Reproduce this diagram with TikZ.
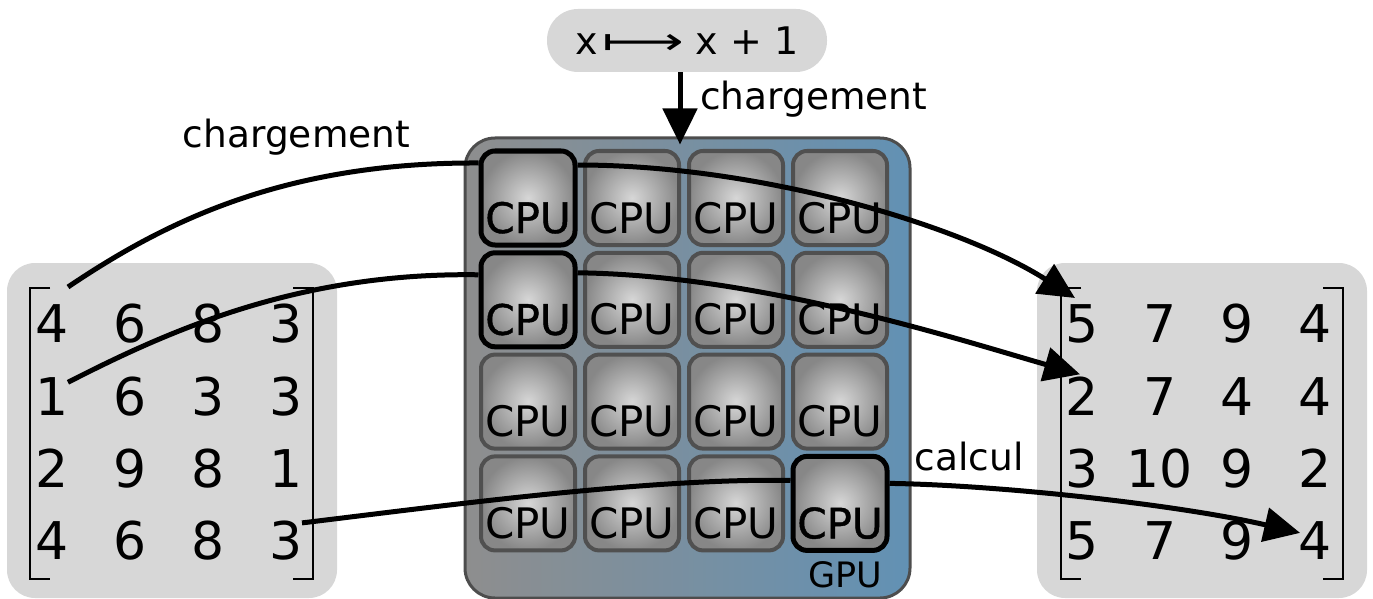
\documentclass[tikz,border=0pt]{standalone}
\usepackage{fontspec}
\setmainfont{DejaVu Sans}
\newfontfamily\cpubold[FakeBold=1]{DejaVu Sans}
\usepackage{tikz}
\usetikzlibrary{arrows.meta, calc, positioning}
\usepackage{xcolor}
\definecolor{boxgray}{RGB}{215,215,215}
\definecolor{cpuline}{RGB}{80,80,80}
\definecolor{cpuin}{RGB}{215,215,215}
\definecolor{cpuout}{RGB}{135,135,135}
\definecolor{gpuleft}{RGB}{142,142,142}
\definecolor{gpuright}{RGB}{98,145,180}
\definecolor{gpuline}{RGB}{77,77,77}

\tikzset{
    cpu/.style={draw=cpuline, line width=4pt, rounded corners=14pt, inner sep=0pt,
        minimum width=94pt, minimum height=94pt, text height=82pt, text depth=12pt,
        inner color=cpuin, outer color=cpuout, font=\fontsize{42}{46}\selectfont},
    cpuhi/.style={cpu, draw=black, line width=5pt, font=\cpubold\fontsize{42}{46}\selectfont},
    entry/.style={inner sep=0pt, font=\fontsize{52}{56}\selectfont},
    matbox/.style={fill=boxgray, rounded corners=28pt, minimum width=330pt, minimum height=335pt},
    brk/.style={line width=1.5pt},
    conn/.style={line width=5pt},
    tip/.style={-{Triangle[length=36pt,width=34pt]}},
    lbl/.style={inner sep=0pt, font=\fontsize{37.5}{42}\selectfont}
}

\begin{document}
\begin{tikzpicture}[x=1pt, y=-1pt]
    \useasboundingbox (0,0) rectangle (1373,599);

    % fonction
    \node[fill=boxgray, rounded corners=31pt, minimum width=280pt, minimum height=63pt,
        inner sep=0pt, font=\fontsize{38}{42}\selectfont] (fx) at (687,40.5)
        {x\hspace{4pt}\scalebox{1.5}[1]{⟼}\hspace{12pt}x + 1};

    % matrices
    \node[matbox] (lbox) at (172,430.5) {};
    \node[matbox] (rbox) at (1202,430.5) {};
    \draw[brk] (50,288) -| (30,579) -- (50,579);
    \draw[brk] (293,288) -| (313,579) -- (293,579);
    \draw[brk] (1081,288) -| (1061,579) -- (1081,579);
    \draw[brk] (1323,288) -| (1343,579) -- (1323,579);

    \foreach \row [count=\r] in {{4,6,8,3},{1,6,3,3},{2,9,8,1},{4,6,8,3}} {
        \foreach \v [count=\c] in \row {
            \node[entry] (l\r\c) at ({52+78*(\c-1)}, {324+72.3*(\r-1)}) {\v};
        }
    }
    \foreach \row [count=\r] in {{5,7,9,4},{2,7,4,4},{3,10,9,2},{5,7,9,4}} {
        \foreach \v [count=\c] in \row {
            \node[entry] (r\r\c) at ({1082+77.7*(\c-1)}, {324+72.3*(\r-1)}) {\v};
        }
    }

    % GPU
    \node[draw=gpuline, line width=3pt, rounded corners=30pt, left color=gpuleft, right color=gpuright,
        minimum width=445pt, minimum height=460pt] (gpu) at (687.5,368) {};
    \foreach \r in {1,2,3,4} {
        \foreach \c in {1,2,3,4} {
            \ifnum\r\c=11 \else\ifnum\r\c=21 \else\ifnum\r\c=44 \else
                \node[cpu] (c\r\c) at ({528+104*(\c-1)}, {198+101.8*(\r-1)}) {CPU};
            \fi\fi\fi
        }
    }
    % CPU actifs
    \node[cpuhi] (c11) at (528,198) {CPU};
    \node[cpuhi] (c21) at (528,299.8) {CPU};
    \node[cpuhi] (c44) at (840,503.4) {CPU};
    \node[anchor=base, inner sep=0pt, font=\fontsize{35}{40}\selectfont] (gpulbl) at (845,587) {GPU};

    % chargement
    \coordinate (gtip) at ($(fx.south |- gpu.north)+(-7,8)$);
    \draw[conn, -{Triangle[length=36pt,width=34pt]}] ([xshift=-7pt]fx.south) -- (gtip);
    \node[lbl, anchor=base west] (chg2) at (700,110) {chargement};
    \node[lbl, anchor=base] (chg1) at (296.5,148) {chargement};

    % fleches
    \draw[conn] ([shift={(16,-37)}]l11.center) .. controls (160,225) and (280,162) .. ([yshift=35pt]c11.west);
    \draw[conn, tip] ([yshift=33pt]c11.east) .. controls (760,165) and (960,225) .. ([shift={(-7,-26)}]r11.center);
    \draw[conn] ([shift={(16,-14)}]l21.center) .. controls (170,330) and (300,272) .. ([yshift=25pt]c21.west);
    \draw[conn, tip] ([yshift=27pt]c21.east) .. controls (760,275) and (960,340) .. ([shift={(-2,-22)}]r21.center);
    \draw[conn] ([shift={(16,-18)}]l44.center) .. controls (450,505) and (650,478) .. ([yshift=23pt]c44.west);
    \draw[conn, tip] ([yshift=20pt]c44.east) .. controls (1000,485) and (1180,505) .. ([shift={(-15,-8)}]r44.center);

    \node[lbl, anchor=base] (calc) at (969,470) {calcul};
\end{tikzpicture}
\end{document}
